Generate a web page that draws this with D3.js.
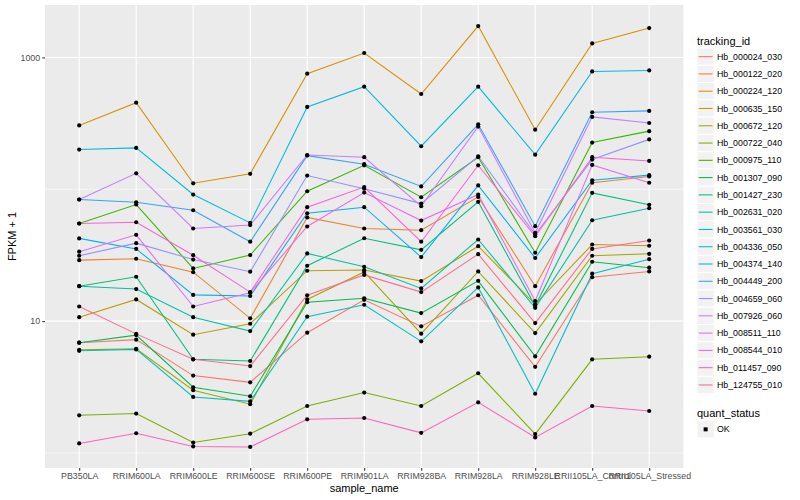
<!DOCTYPE html>
<html>
<head>
<meta charset="utf-8">
<script src="https://cdn.jsdelivr.net/npm/d3@7"></script>
<style>
  body { margin: 0; background: #fff; }
  text { font-family: "Liberation Sans", Arial, sans-serif; }
</style>
</head>
<body>
<svg width="800" height="500"></svg>
<script>
// samples on the x axis
var samples = ["PB350LA", "RRIM600LA", "RRIM600LE", "RRIM600SE", "RRIM600PE", "RRIM901LA",
               "RRIM928BA", "RRIM928LA", "RRIM928LE", "RRII105LA_Control", "RRII105LA_Stressed"];

var trackingIds = ["Hb_000024_030", "Hb_000122_020", "Hb_000224_120", "Hb_000635_150", "Hb_000672_120",
                   "Hb_000722_040", "Hb_000975_110", "Hb_001307_090", "Hb_001427_230", "Hb_002631_020",
                   "Hb_003561_030", "Hb_004336_050", "Hb_004374_140", "Hb_004449_200", "Hb_004659_060",
                   "Hb_007926_060", "Hb_008511_110", "Hb_008544_010", "Hb_011457_090", "Hb_124755_010"];

// FPKM + 1, one row per tracking_id, one value per sample
var fpkm = [
  [6.86, 7.23, 3.86, 3.43, 8.17, 14.5, 9.12, 15.7, 4.50, 21.5, 23.8],
  [29.0, 29.7, 23.5, 10.5, 61.1, 50.4, 48.9, 87.5, 18.4, 112, 125],
  [305, 454, 111, 131, 753, 1080, 528, 1730, 283, 1277, 1670],
  [10.7, 14.6, 7.89, 9.55, 24.1, 24.4, 20.1, 37.0, 13.4, 38.1, 37.3],
  [6.05, 6.16, 2.99, 2.34, 14.6, 23.6, 8.03, 23.8, 8.11, 31.3, 32.4],
  [1.93, 1.99, 1.20, 1.40, 2.27, 2.87, 2.27, 4.02, 1.39, 5.13, 5.37],
  [55.0, 76.6, 25.1, 31.7, 96.6, 152, 87.0, 175, 33.0, 226, 276],
  [6.86, 7.83, 3.15, 2.69, 13.9, 14.9, 11.5, 20.2, 5.40, 28.2, 25.4],
  [18.4, 21.7, 5.13, 4.98, 26.3, 42.5, 34.7, 80.3, 13.0, 93.9, 76.2],
  [18.4, 17.5, 10.7, 8.40, 32.6, 25.8, 17.7, 41.6, 12.6, 58.2, 71.8],
  [5.95, 6.10, 2.66, 2.46, 10.8, 13.3, 7.02, 18.0, 2.81, 22.9, 29.5],
  [200, 206, 91.2, 55.6, 421, 600, 212, 600, 183, 783, 797],
  [42.4, 35.3, 15.8, 15.5, 65.8, 73.1, 30.6, 107, 30.1, 117, 128],
  [83.6, 79.7, 69.3, 40.0, 180, 155, 105, 311, 52.5, 384, 393],
  [31.3, 39.0, 29.3, 23.7, 127, 101, 77.9, 178, 45.4, 168, 239],
  [83.6, 132, 50.4, 53.5, 182, 175, 74.3, 299, 46.7, 354, 318],
  [33.6, 45.1, 12.9, 16.4, 52.2, 94.4, 57.9, 91.2, 14.2, 153, 112],
  [55.0, 56.2, 31.6, 16.6, 73.1, 104, 40.0, 152, 44.0, 175, 164],
  [1.18, 1.41, 1.12, 1.11, 1.80, 1.84, 1.42, 2.42, 1.31, 2.27, 2.08],
  [12.9, 8.00, 5.13, 4.56, 15.7, 22.4, 16.6, 32.2, 9.66, 35.3, 40.8]
];

var yBreaks = [10, 1000],
    yMinor = [1, 100, 10000];
var quantStatus = ["OK"];

// ggplot hue palette
var palette = ["#F8766D", "#EA8331", "#D89000", "#C09B00", "#A3A500", "#7CAE00", "#39B600", "#00BB4E",
               "#00BF7D", "#00C1A3", "#00BFC4", "#00BAE0", "#00B0F6", "#35A2FF", "#9590FF", "#C77CFF",
               "#E76BF3", "#FA62DB", "#FF62BC", "#FF6C91"];

var svg = d3.select("svg"),
    panel = {left: 45, top: 5, right: 683.4, bottom: 468};

svg.append("rect").attr("width", 800).attr("height", 500).attr("fill", "#fff");

var x = d3.scalePoint().domain(samples).range([panel.left, panel.right]).padding(0.6);

var all = d3.merge(fpkm),
    lo = Math.log10(d3.min(all)),
    hi = Math.log10(d3.max(all)),
    pad = (hi - lo) * 0.05;
var y = d3.scaleLog()
    .domain([Math.pow(10, lo - pad), Math.pow(10, hi + pad)])
    .range([panel.bottom, panel.top]);
var color = d3.scaleOrdinal().domain(trackingIds).range(palette);

// panel + grid
svg.append("rect")
    .attr("x", panel.left).attr("y", panel.top)
    .attr("width", panel.right - panel.left).attr("height", panel.bottom - panel.top)
    .attr("fill", "#EBEBEB");

var grid = svg.append("g").attr("stroke", "#fff").attr("fill", "none");
grid.selectAll(".minor")
    .data(yMinor.filter(function(d) { return d >= y.domain()[0] && d <= y.domain()[1]; }))
  .enter().append("line")
    .attr("x1", panel.left).attr("x2", panel.right)
    .attr("y1", function(d) { return y(d); }).attr("y2", function(d) { return y(d); })
    .attr("stroke-width", 0.53);
grid.selectAll(".major")
    .data(yBreaks)
  .enter().append("line")
    .attr("x1", panel.left).attr("x2", panel.right)
    .attr("y1", function(d) { return y(d); }).attr("y2", function(d) { return y(d); })
    .attr("stroke-width", 1.07);
grid.selectAll(".vx")
    .data(samples)
  .enter().append("line")
    .attr("x1", function(d) { return x(d); }).attr("x2", function(d) { return x(d); })
    .attr("y1", panel.top).attr("y2", panel.bottom)
    .attr("stroke-width", 1.07);

// axes
var yAxis = svg.append("g")
    .attr("transform", "translate(" + panel.left + ",0)")
    .call(d3.axisLeft(y).tickValues(yBreaks).tickFormat(d3.format("d")).tickSize(2.7).tickPadding(2.2));
var xAxis = svg.append("g")
    .attr("transform", "translate(0," + panel.bottom + ")")
    .call(d3.axisBottom(x).tickSize(2.7).tickPadding(2.2));
[xAxis, yAxis].forEach(function(a) {
  a.select(".domain").remove();
  a.selectAll(".tick line").attr("stroke", "#333").attr("stroke-width", 1.07);
  a.selectAll(".tick text").attr("fill", "#4D4D4D").style("font-size", "8.8px")
    .style("font-family", "'Liberation Sans', Arial, sans-serif");
});

svg.append("text")
    .attr("x", (panel.left + panel.right) / 2).attr("y", 492)
    .attr("text-anchor", "middle").style("font-size", "11px")
    .text("sample_name");
svg.append("text")
    .attr("transform", "translate(12," + (panel.top + panel.bottom) / 2 + ") rotate(-90)")
    .attr("dy", "0.35em").attr("text-anchor", "middle").style("font-size", "11px")
    .text("FPKM + 1");

// lines
var line = d3.line()
    .x(function(d, i) { return x(samples[i]); })
    .y(function(d) { return y(d); });

svg.append("g").selectAll("path")
    .data(fpkm)
  .enter().append("path")
    .attr("d", line)
    .attr("fill", "none")
    .attr("stroke", function(d, i) { return color(trackingIds[i]); })
    .attr("stroke-width", 1.07);

// points
var pts = svg.append("g");
fpkm.forEach(function(row) {
  pts.selectAll(null)
      .data(row)
    .enter().append("circle")
      .attr("cx", function(d, i) { return x(samples[i]); })
      .attr("cy", function(d) { return y(d); })
      .attr("r", 2.1)
      .attr("fill", "#000");
});

// legend: tracking_id
var key = 17.28, lx = 697;
var leg = svg.append("g");
leg.append("text").attr("x", lx).attr("y", 44.5).style("font-size", "11px").text("tracking_id");
var items = leg.selectAll(".item")
    .data(trackingIds)
  .enter().append("g")
    .attr("transform", function(d, i) { return "translate(" + lx + "," + (48 + i * key) + ")"; });
items.append("rect")
    .attr("width", key).attr("height", key)
    .attr("fill", "#F2F2F2").attr("stroke", "#fff").attr("stroke-width", 1);
items.append("line")
    .attr("x1", 1.7).attr("x2", key - 1.7)
    .attr("y1", key / 2).attr("y2", key / 2)
    .attr("stroke", function(d) { return color(d); })
    .attr("stroke-width", 1.07);
items.append("text")
    .attr("x", key + 2.7).attr("y", key / 2).attr("dy", "0.35em")
    .style("font-size", "8.8px").text(function(d) { return d; });

// legend: quant_status
var leg2 = svg.append("g");
leg2.append("text").attr("x", lx).attr("y", 416.5).style("font-size", "11px").text("quant_status");
var q = leg2.selectAll(".q")
    .data(quantStatus)
  .enter().append("g")
    .attr("transform", function(d, i) { return "translate(" + lx + "," + (420.7 + i * key) + ")"; });
q.append("rect")
    .attr("width", key).attr("height", key)
    .attr("fill", "#F2F2F2").attr("stroke", "#fff").attr("stroke-width", 1);
q.append("rect")
    .attr("x", key / 2 - 2).attr("y", key / 2 - 2).attr("width", 4).attr("height", 4)
    .attr("fill", "#000");
q.append("text")
    .attr("x", key + 2.7).attr("y", key / 2).attr("dy", "0.35em")
    .style("font-size", "8.8px").text(function(d) { return d; });
</script>
</body>
</html>
